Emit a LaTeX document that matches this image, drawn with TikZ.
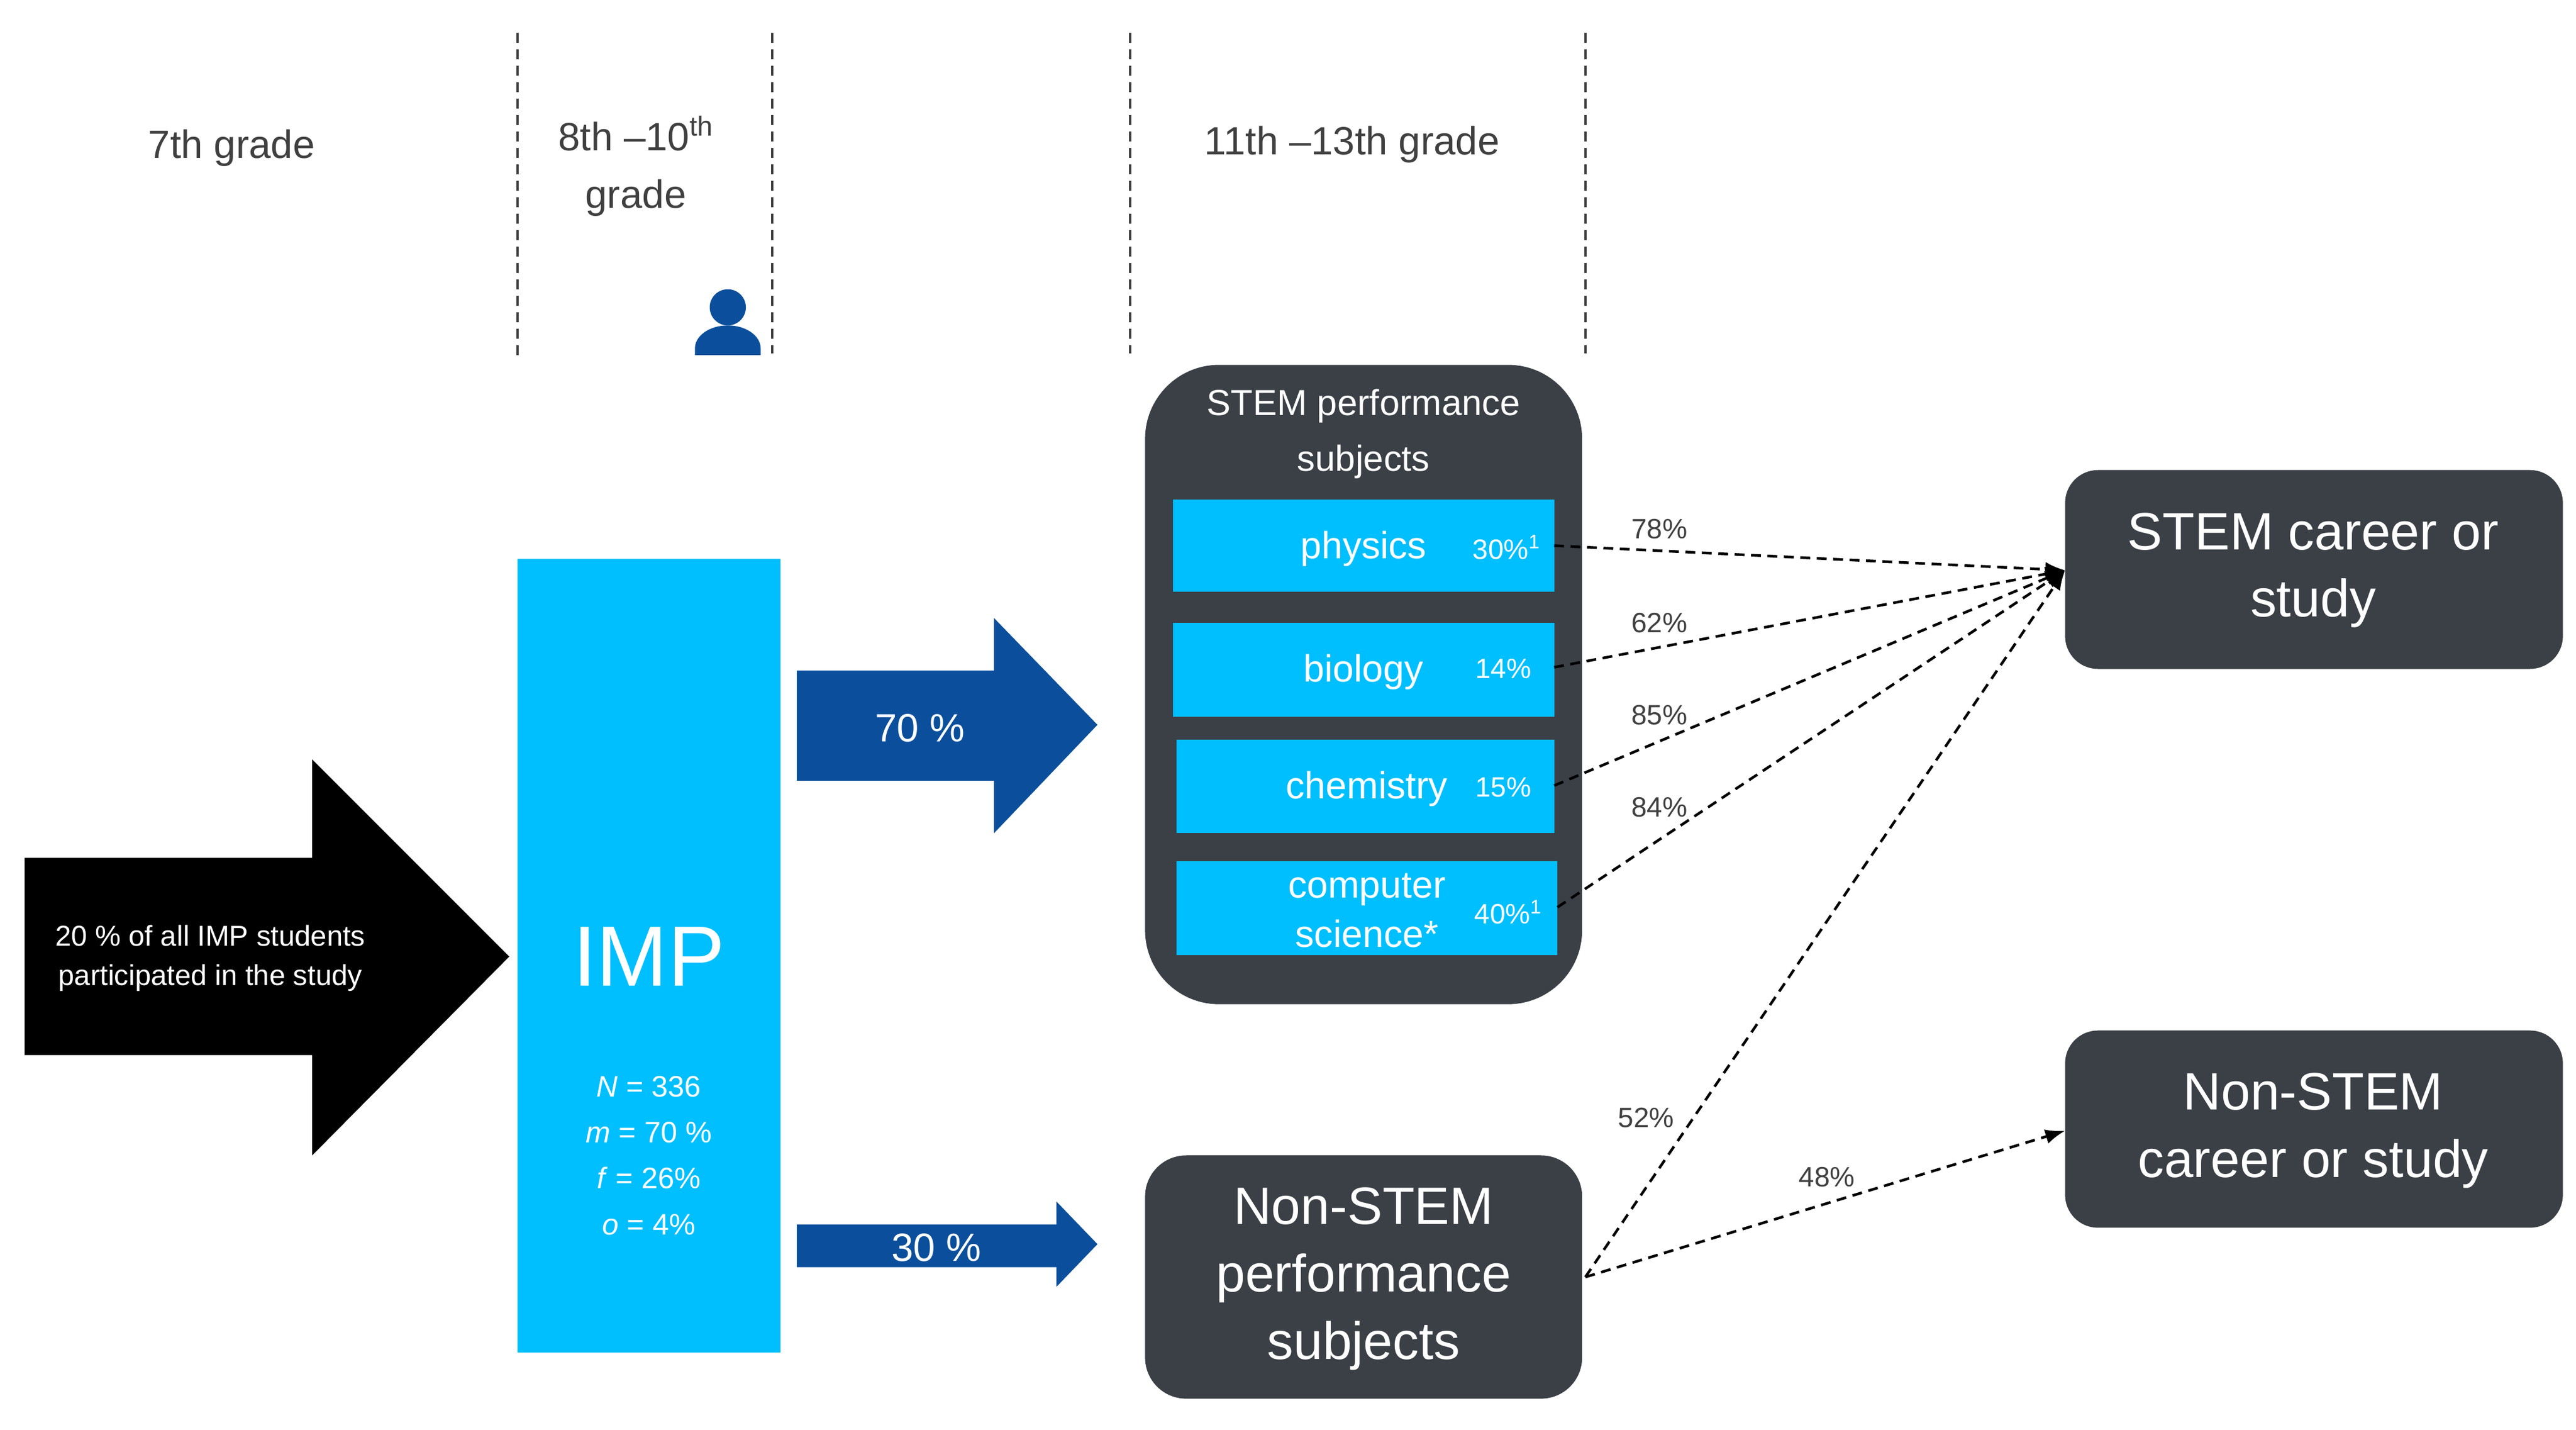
\documentclass[tikz,border=0pt]{standalone}
\usepackage{fontspec}
\setmainfont{Liberation Sans}
\usetikzlibrary{arrows.meta}
\definecolor{cyanb}{HTML}{00BFFF}
\definecolor{navy}{HTML}{0B4F9C}
\definecolor{dark}{HTML}{3B3F46}
\definecolor{gtxt}{HTML}{404040}
\newcommand{\fs}[1]{\fontsize{#1}{1.2\dimexpr #1pt\relax}\selectfont}
\newcommand{\fsl}[2]{\fontsize{#1}{#2}\selectfont}
\begin{document}
\begin{tikzpicture}[x=1pt,y=-1pt,
  vline/.style={dash pattern=on 6pt off 4pt,line width=1.6pt,gtxt},
  hdr/.style={text=gtxt,font=\fs{24},align=center},
  bar/.style={fill=cyanb,draw=none},
  bartxt/.style={text=white,font=\fs{23}},
  pct/.style={text=white,font=\fs{17}},
  big/.style={text=white,font=\fsl{32}{41pt},align=center},
  darr/.style={dash pattern=on 6pt off 4pt,line width=1.6pt,-{Latex[length=12pt,width=9pt]}},
  lab/.style={text=gtxt,font=\fs{17}}]
\useasboundingbox (0,0) rectangle (1568,870);
\fill[white] (0,0) rectangle (1568,870);
% dashed lines
\draw[vline] (315,20) -- (315,218);
\draw[vline] (470,20) -- (470,215);
\draw[vline] (688,20) -- (688,215);
\draw[vline] (965,20) -- (965,215);
\node[hdr] (g7) at (141,90) {7th grade};
\node[hdr] (g8) at (387,101) {8th –10\textsuperscript{th}\\[6pt]grade};
\node[hdr] (g11) at (823,88) {11th –13th grade};
% person
\fill[navy] (443,187) circle (11);
\fill[navy] (423,216) -- (423,212) arc[start angle=180,end angle=360,x radius=20,y radius=14] -- (463,216) -- cycle;
% black arrow
\fill[black] (15,522) -- (190,522) -- (190,462) -- (310,582) -- (190,703) -- (190,642) -- (15,642) -- cycle;
\node[text=white,font=\fsl{17.5}{24pt},align=center] (part) at (128,583) {20 \% of all IMP students\\participated in the study};
% IMP
\fill[cyanb] (315,340) rectangle (475,823);
\node[text=white,font=\fs{52}] (imp) at (395,582) {IMP};
\node[text=white,font=\fsl{18}{28pt},align=center] (stats) at (395,703) {\textit{N} = 336\\\textit{m} = 70 \%\\\textit{f} = 26\%\\\textit{o} = 4\%};
% blue arrows
\fill[navy] (485,408) -- (605,408) -- (605,376) -- (668,441) -- (605,507) -- (605,475) -- (485,475) -- cycle;
\node[text=white,font=\fs{24}] (p70) at (560,443) {70 \%};
\fill[navy] (485,745) -- (643,745) -- (643,731) -- (668,757) -- (643,783) -- (643,771) -- (485,771) -- cycle;
\node[text=white,font=\fs{24}] (p30) at (570,759) {30 \%};
% STEM box
\fill[dark,rounded corners=45pt] (697,222) rectangle (963,611);
\node[text=white,font=\fsl{22}{34pt},align=center] (stemt) at (830,264) {STEM performance\\subjects};
\fill[bar] (714,304) rectangle (946,360); \coordinate (phy) at (946,332);
\fill[bar] (714,379) rectangle (946,436); \coordinate (bio) at (946,406);
\fill[bar] (716,450) rectangle (946,507); \coordinate (che) at (946,478);
\fill[bar] (716,524) rectangle (948,581); \coordinate (cs) at (948,552);
\node[bartxt] at (830,334) {physics};
\node[pct] at (917,333) {30\%\textsuperscript{1}};
\node[bartxt] at (830,409) {biology};
\node[pct] at (915,407) {14\%};
\node[bartxt] at (832,480) {chemistry};
\node[pct] at (915,479) {15\%};
\node[text=white,font=\fsl{23}{30pt},align=center] at (832,554) {computer\\science*};
\node[pct] at (918,555) {40\%\textsuperscript{1}};
% Non-STEM perf
\fill[dark,rounded corners=25pt] (697,703) rectangle (963,851);
\node[big] (nsp) at (830,778) {Non-STEM\\performance\\subjects};
\coordinate (nspe) at (965,777);
% careers
\fill[dark,rounded corners=20pt] (1257,286) rectangle (1560,407);
\node[big] (sc) at (1408,347) {STEM career or\\study};
\coordinate (scw) at (1257,347);
\fill[dark,rounded corners=20pt] (1257,627) rectangle (1560,747);
\node[big] (nsc) at (1408,688) {Non-STEM\\career or study};
\coordinate (nscw) at (1257,688);
% dashed arrows
\draw[darr] (phy) -- (scw);
\draw[darr] (bio) -- (scw);
\draw[darr] (che) -- (scw);
\draw[darr] (cs) -- (scw);
\draw[darr] (nspe) -- (scw);
\draw[darr] (nspe) -- (nscw);
\node[lab] at (1010,322) {78\%};
\node[lab] at (1010,379) {62\%};
\node[lab] at (1010,435) {85\%};
\node[lab] at (1010,491) {84\%};
\node[lab] at (1002,680) {52\%};
\node[lab] at (1112,716) {48\%};
\end{tikzpicture}
\end{document}
